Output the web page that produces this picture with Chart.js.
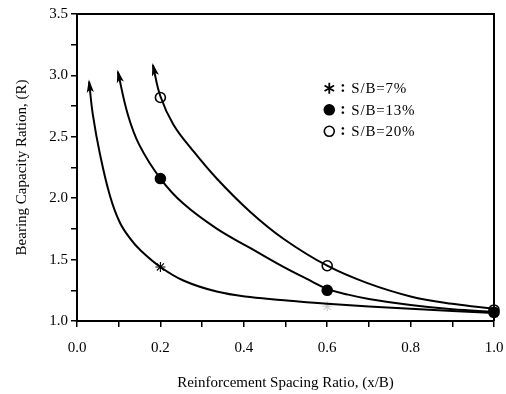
<!DOCTYPE html>
<html>
<head>
<meta charset="utf-8">
<script src="https://cdn.jsdelivr.net/npm/chart.js@4/dist/chart.umd.min.js"></script>
<style>
html,body{margin:0;padding:0;background:#fff;}
#wrap{width:506px;height:394px;}
</style>
</head>
<body>
<div id="wrap"><canvas id="c" width="506" height="394"></canvas></div>
<script>
// ---- data ----
const seriesLabels = ['S/B=7%', 'S/B=13%', 'S/B=20%'];
const markerX = [0.2, 0.6, 1.0];
const marker7 = [1.44, 1.12, 1.06];
const marker13 = [2.16, 1.25, 1.07];
const marker20 = [2.82, 1.45, 1.09];
// traced fitted curves (first point is the arrow tip)
const curve7X = [0.029, 0.038, 0.055, 0.079, 0.103, 0.13, 0.151, 0.2, 0.255, 0.335, 0.415, 0.51, 0.6, 0.8, 1.0];
const curve7Y = [2.95, 2.68, 2.36, 2.02, 1.80, 1.66, 1.58, 1.44, 1.33, 1.24, 1.195, 1.165, 1.14, 1.10, 1.065];
const curve13X = [0.098, 0.122, 0.15, 0.2, 0.255, 0.335, 0.415, 0.495, 0.55, 0.6, 0.65, 0.7, 0.8, 0.9, 1.0];
const curve13Y = [3.03, 2.68, 2.43, 2.16, 1.956, 1.752, 1.595, 1.44, 1.345, 1.262, 1.215, 1.18, 1.13, 1.095, 1.075];
const curve20X = [0.182, 0.2, 0.231, 0.275, 0.335, 0.415, 0.495, 0.6, 0.695, 0.8, 0.9, 1.0];
const curve20Y = [3.085, 2.83, 2.60, 2.40, 2.16, 1.89, 1.67, 1.45, 1.31, 1.20, 1.14, 1.10];
const xTicks = [0.0, 0.2, 0.4, 0.6, 0.8, 1.0];
const yTicks = [1.0, 1.5, 2.0, 2.5, 3.0, 3.5];

const pts = (xs, ys) => xs.map((x, i) => ({x: x, y: ys[i]}));

const curveDs = (xs, ys) => ({
  data: pts(xs, ys), showLine: true, borderColor: '#000', borderWidth: 2,
  pointRadius: 0, tension: 0.4, fill: false, isCurve: true, clip: false
});
const markerDs = (label, ys, style, fillColor, borderCols, bw) => ({
  label: label, data: pts(markerX, ys), showLine: false,
  pointStyle: style, pointRadius: 5, pointBackgroundColor: fillColor,
  pointBorderColor: borderCols, pointBorderWidth: bw, clip: false
});

const serif = "'Liberation Serif', 'DejaVu Serif', serif";

const arrowPlugin = {
  id: 'arrows',
  afterDatasetsDraw(chart) {
    const ctx = chart.ctx;
    chart.data.datasets.forEach((ds, i) => {
      if (!ds.isCurve) return;
      const el = chart.getDatasetMeta(i).data;
      const p0 = el[0], p1 = el[1];
      const ang = Math.atan2(p0.y - p1.y, p0.x - p1.x);
      const L = 11, W = 3.6;
      ctx.save();
      ctx.translate(p0.x, p0.y);
      ctx.rotate(ang);
      ctx.beginPath();
      ctx.moveTo(2, 0);
      ctx.lineTo(-L, W);
      ctx.lineTo(-L + 3, 0);
      ctx.lineTo(-L, -W);
      ctx.closePath();
      ctx.fillStyle = '#000';
      ctx.fill();
      ctx.restore();
    });
  }
};

const framePlugin = {
  id: 'frame',
  afterDraw(chart) {
    const a = chart.chartArea, ctx = chart.ctx;
    ctx.save();
    ctx.strokeStyle = '#000';
    ctx.lineWidth = 2;
    ctx.beginPath();
    ctx.moveTo(a.left, a.top);
    ctx.lineTo(a.right, a.top);
    ctx.lineTo(a.right, a.bottom);
    ctx.stroke();
    ctx.restore();
  }
};

const legendPlugin = {
  id: 'customLegend',
  afterDraw(chart) {
    const ctx = chart.ctx;
    const xs = chart.scales.x, ys = chart.scales.y;
    const baseX = xs.getPixelForValue(0.605);
    const baseY = ys.getPixelForValue(2.895);
    const gap = 21.5;
    ctx.save();
    ctx.fillStyle = '#000';
    ctx.textBaseline = 'middle';
    const mds = chart.data.datasets.filter(d => !d.isCurve);
    mds.forEach((ds, k) => {
      const y = baseY + k * gap;
      ctx.fillStyle = ds.pointBackgroundColor;
      ctx.strokeStyle = '#000';
      ctx.lineWidth = 1.6;
      ctx.beginPath();
      if (ds.pointStyle === 'circle') {
        ctx.arc(baseX, y, 5, 0, Math.PI * 2);
        ctx.fill();
        ctx.stroke();
      } else {
        ctx.lineWidth = 1.8;
        for (let a = 0; a < 3; a++) {
          const t = Math.PI / 2 + a * Math.PI / 3;
          ctx.moveTo(baseX + 5.5 * Math.cos(t), y + 5.5 * Math.sin(t));
          ctx.lineTo(baseX - 5.5 * Math.cos(t), y - 5.5 * Math.sin(t));
        }
        ctx.stroke();
      }
      ctx.fillStyle = '#000';
      ctx.font = 'bold 16px ' + serif;
      ctx.fillText(':', baseX + 11, y);
      ctx.font = '15px ' + serif;
      try { ctx.letterSpacing = '0.8px'; } catch (e) {}
      ctx.fillText(ds.label, baseX + 22, y + 1);
      try { ctx.letterSpacing = '0px'; } catch (e) {}
    });
    ctx.restore();
  }
};

new Chart(document.getElementById('c'), {
  type: 'scatter',
  data: {
    datasets: [
      curveDs(curve7X, curve7Y),
      curveDs(curve13X, curve13Y),
      curveDs(curve20X, curve20Y),
      markerDs(seriesLabels[0], marker7, 'star', '#000', ['#000', '#ccc', '#000'], 1.1),
      markerDs(seriesLabels[1], marker13, 'circle', '#000', '#000', 1.6),
      markerDs(seriesLabels[2], marker20, 'circle', '#fff', '#000', 1.6)
    ]
  },
  options: {
    responsive: false,
    animation: false,
    devicePixelRatio: 1,
    layout: {padding: {top: 14, right: 12, left: 0, bottom: 0}},
    plugins: {legend: {display: false}, tooltip: {enabled: false}},
    scales: {
      x: {
        type: 'linear', min: 0, max: 1,
        afterFit: s => { s.height = 73; s.paddingRight = 12; s.paddingLeft = 10; },
        afterBuildTicks: s => {
          const t = [];
          for (let i = 0; i <= 10; i++) t.push({value: i / 10});
          s.ticks = t;
        },
        ticks: {
          autoSkip: false, maxRotation: 0, padding: 12, color: '#000',
          font: {family: serif, size: 15},
          callback: v => (Math.round(v * 10) % 2 === 0 ? xTicks[Math.round(v * 5)].toFixed(1) : '')
        },
        grid: {drawOnChartArea: false, drawTicks: true, tickLength: 6, color: '#000', lineWidth: 1.5},
        border: {color: '#000', width: 2},
        title: {display: true, text: 'Reinforcement Spacing Ratio, (x/B)', color: '#000',
          font: {family: serif, size: 15}, padding: {top: 3, bottom: 2}}
      },
      y: {
        type: 'linear', min: 1, max: 3.5,
        afterFit: s => { s.width = 77; },
        afterBuildTicks: s => {
          const t = [];
          for (let i = 0; i <= 10; i++) t.push({value: 1 + i * 0.25});
          s.ticks = t;
        },
        ticks: {
          autoSkip: false, padding: 3, color: '#000',
          font: {family: serif, size: 15},
          callback: v => (Math.round(v * 100) % 50 === 0 ? yTicks[Math.round((v - 1) * 2)].toFixed(1) : '')
        },
        grid: {drawOnChartArea: false, drawTicks: true, tickLength: 6, color: '#000', lineWidth: 1.5},
        border: {color: '#000', width: 2},
        title: {display: true, text: 'Bearing Capacity Ration, (R)', color: '#000',
          font: {family: serif, size: 15}, padding: {top: 13, bottom: 3}}
      }
    }
  },
  plugins: [arrowPlugin, framePlugin, legendPlugin]
});
</script>
</body>
</html>
